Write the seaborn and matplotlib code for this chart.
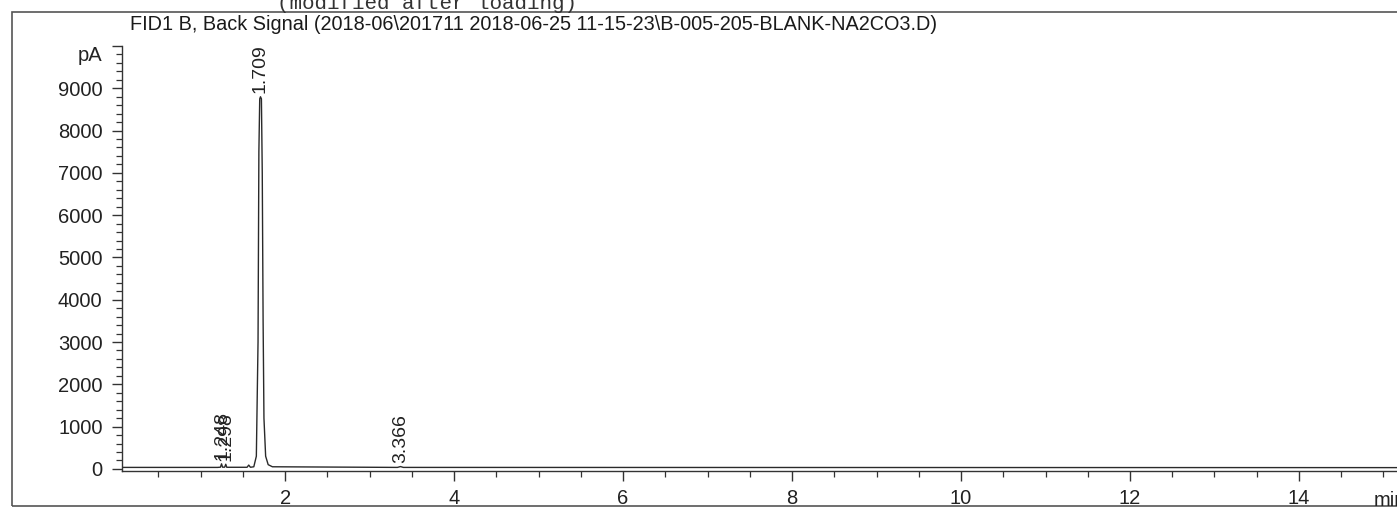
import matplotlib
matplotlib.use("Agg")
import matplotlib.pyplot as plt
import matplotlib.patches as mpatches
from matplotlib.ticker import MultipleLocator
import seaborn as sns
import pandas as pd

# FID trace (time in min, signal in pA)
time_min = [0.07, 1.20, 1.235, 1.248, 1.26, 1.285, 1.298, 1.31, 1.55, 1.57, 1.59,
            1.63, 1.66, 1.68, 1.69, 1.70, 1.709, 1.72, 1.73, 1.74, 1.75, 1.77,
            1.80, 1.85, 3.33, 3.366, 3.40, 15.16]
signal_pA = [35, 35, 40, 120, 40, 40, 110, 38, 38, 90, 38,
             50, 300, 3000, 7500, 8750, 8800, 8750, 7000, 3500, 1200, 300,
             100, 50, 35, 55, 35, 30]

# integrated peaks and their retention times
peak_rt = [1.248, 1.298, 1.709, 3.366]
peak_top = [120, 110, 8800, 55]

y_ticks = [0, 1000, 2000, 3000, 4000, 5000, 6000, 7000, 8000, 9000, 10000]
y_labels = ["0", "1000", "2000", "3000", "4000", "5000", "6000", "7000", "8000", "9000", "pA"]
x_ticks = [2, 4, 6, 8, 10, 12, 14]

title = "FID1 B, Back Signal (2018-06\\201711 2018-06-25 11-15-23\\B-005-205-BLANK-NA2CO3.D)"
note = "(modified after loading)"

sns.set_style("ticks")
plt.rcParams["font.family"] = ["Liberation Sans", "DejaVu Sans"]

W, H = 1397, 519
fig = plt.figure(figsize=(W / 100, H / 100), dpi=100)
ax = fig.add_axes([122 / W, (H - 471) / H, 1 - 122 / W, (471 - 46) / H])

df = pd.DataFrame({"t": time_min, "pA": signal_pA})
sns.lineplot(data=df, x="t", y="pA", ax=ax, color="#2a2a2a", linewidth=1.0)

for rt, top in zip(peak_rt, peak_top):
    ax.text(rt, top + 80, f"{rt:.3f}", rotation=90, ha="center", va="bottom",
            fontsize=14, color="#222222")

ax.set_xlim(0.07, 15.16)
ax.set_ylim(-50, 10000)
ax.set_xticks(x_ticks)
ax.set_xticklabels([str(v) for v in x_ticks])
ax.set_yticks(y_ticks)
ax.set_yticklabels(y_labels)
ax.xaxis.set_minor_locator(MultipleLocator(0.5))
ax.yaxis.set_minor_locator(MultipleLocator(200))
ax.tick_params(axis="both", which="major", length=7, width=1, colors="#333333",
               labelsize=14.5, labelcolor="#222222")
ax.tick_params(axis="both", which="minor", length=4, width=0.9, colors="#333333")
ax.tick_params(axis="x", which="major", pad=6)
ax.tick_params(axis="y", which="major", pad=7)
ax.yaxis.get_major_ticks()[-1].label1.set_verticalalignment("top")
ax.set_xlabel("")
ax.set_ylabel("")
sns.despine(ax=ax)
for s in ["left", "bottom"]:
    ax.spines[s].set_color("#333333")
    ax.spines[s].set_linewidth(1.0)

fig.text(1374 / W, 1 - 500 / H, "min", ha="left", va="center", fontsize=14.5, color="#222222")
fig.text(130 / W, 1 - 24 / H, title, ha="left", va="center", fontsize=14.3, color="#1a1a1a")
fig.text(277 / W, 1 - 9 / H, note, ha="left", va="baseline", fontsize=15,
         family=["Liberation Mono", "DejaVu Sans Mono"], color="#333333")

frame = mpatches.Rectangle((12 / W, (H - 506) / H), 1.0, (506 - 12) / H,
                           transform=fig.transFigure, fill=False,
                           edgecolor="#555555", linewidth=1.2)
fig.patches.append(frame)

fig.savefig("out.png", dpi=100, facecolor="white")
